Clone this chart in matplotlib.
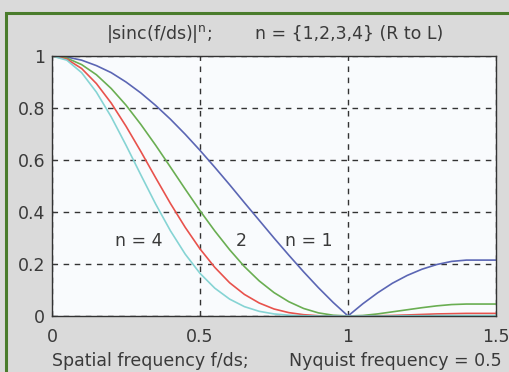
import matplotlib.pyplot as plt
from matplotlib.patches import Rectangle

# spatial frequency f/ds
freq = [0.00, 0.05, 0.10, 0.15, 0.20, 0.25, 0.30, 0.35, 0.40, 0.45, 0.50,
        0.55, 0.60, 0.65, 0.70, 0.75, 0.80, 0.85, 0.90, 0.95, 1.00,
        1.05, 1.10, 1.15, 1.20, 1.25, 1.30, 1.35, 1.40, 1.45, 1.50]

# |sinc|^n
n1 = [1.000, 0.996, 0.984, 0.963, 0.936, 0.900, 0.858, 0.810, 0.757, 0.699, 0.637,
      0.572, 0.505, 0.436, 0.368, 0.300, 0.234, 0.170, 0.109, 0.052, 0.000,
      0.047, 0.089, 0.126, 0.156, 0.180, 0.198, 0.210, 0.215, 0.215, 0.215]
n2 = [1.000, 0.992, 0.967, 0.928, 0.875, 0.811, 0.737, 0.657, 0.573, 0.488, 0.405,
      0.327, 0.255, 0.190, 0.135, 0.090, 0.055, 0.029, 0.012, 0.003, 0.000,
      0.002, 0.008, 0.016, 0.024, 0.032, 0.039, 0.044, 0.046, 0.046, 0.046]
n3 = [1.000, 0.988, 0.952, 0.894, 0.819, 0.730, 0.633, 0.532, 0.433, 0.341, 0.258,
      0.187, 0.128, 0.083, 0.050, 0.027, 0.013, 0.005, 0.001, 0.000, 0.000,
      0.000, 0.001, 0.002, 0.004, 0.006, 0.008, 0.009, 0.010, 0.010, 0.010]
n4 = [1.000, 0.984, 0.936, 0.861, 0.766, 0.657, 0.543, 0.431, 0.328, 0.238, 0.164,
      0.107, 0.065, 0.036, 0.018, 0.008, 0.003, 0.001, 0.000, 0.000, 0.000,
      0.000, 0.000, 0.000, 0.001, 0.001, 0.002, 0.002, 0.002, 0.002, 0.002]

series = [(n1, '#5b66b4'), (n2, '#6aae52'), (n3, '#e8524c'), (n4, '#86d4d4')]

xticks = [0, 0.5, 1, 1.5]
xticklabels = ['0', '0.5', '1', '1.5']
yticks = [0, 0.2, 0.4, 0.6, 0.8, 1]
yticklabels = ['0', '0.2', '0.4', '0.6', '0.8', '1']

plt.rcParams['font.family'] = ['DejaVu Sans']
txt = '#3a3a3a'
fs = 12.5

fig = plt.figure(figsize=(5.10, 3.72), dpi=100, facecolor='#dadada')
# green frame round the figure
fig.patches.append(Rectangle((6 / 510, -0.1), 1.1, 1 - 13 / 372 + 0.1, transform=fig.transFigure,
                             fill=False, edgecolor='#4a7c2c', linewidth=2.2))

ax = fig.add_axes([52 / 510, 1 - 316 / 372, 444 / 510, 260 / 372])
ax.set_facecolor('#f9fbfd')

for vals, col in series:
    ax.plot(freq, vals, color=col, linewidth=1.2)

ax.set_xlim(0, 1.5)
ax.set_ylim(0, 1)
ax.set_xticks(xticks)
ax.set_xticklabels(xticklabels)
ax.set_yticks(yticks)
ax.set_yticklabels(yticklabels)
ax.tick_params(direction='in', length=3, labelsize=fs, colors=txt)
ax.tick_params(axis='x', pad=9)
ax.tick_params(axis='y', pad=5)
ax.grid(True, color='#333333', linestyle=(0, (4, 4)), linewidth=1.0)
for spine in ax.spines.values():
    spine.set_color('#333333')
    spine.set_linewidth(1.0)

ax.text(0.294, 0.29, 'n = 4', ha='center', va='center', fontsize=fs, color=txt)
ax.text(0.64, 0.29, '2', ha='center', va='center', fontsize=fs, color=txt)
ax.text(0.868, 0.29, 'n = 1', ha='center', va='center', fontsize=fs, color=txt)

fig.text(0.312, 1 - 34 / 372, '|sinc(f/ds)|$^{\\mathregular{n}}$;', ha='center', va='center',
         fontsize=fs, color=txt)
fig.text(0.684, 1 - 34 / 372, 'n = {1,2,3,4} (R to L)', ha='center', va='center',
         fontsize=fs, color=txt)
fig.text(0.294, 1 - 361 / 372, 'Spatial frequency f/ds;', ha='center', va='center',
         fontsize=fs, color=txt)
fig.text(0.775, 1 - 361 / 372, 'Nyquist frequency = 0.5', ha='center', va='center',
         fontsize=fs, color=txt)

fig.savefig('out.png', dpi=100, facecolor=fig.get_facecolor())
